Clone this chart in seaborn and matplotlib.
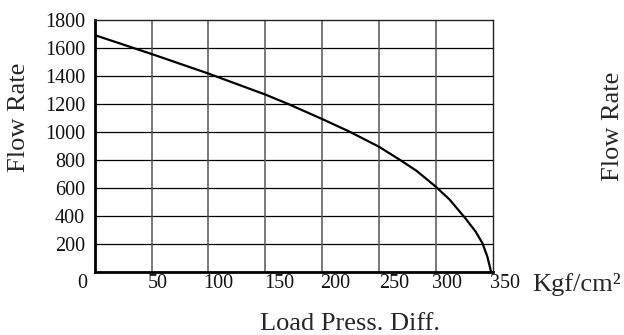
"""
Flow rate vs. load pressure differential curve (valve characteristic).
"""

import matplotlib
matplotlib.use("Agg")
import matplotlib.pyplot as plt
import matplotlib.transforms as mtransforms
import seaborn as sns
import pandas as pd

# Values
pressure = [0, 50, 100, 150, 170, 200, 224, 250, 268, 277, 283, 300, 312, 326, 335, 341, 345.3, 348.5]
flow = [1690, 1555, 1415, 1265, 1198, 1090, 1000, 892, 800, 752, 720, 606, 515, 380, 285, 202, 106, 0]

x_ticks = [0, 50, 100, 150, 200, 250, 300, 350]
y_ticks = [200, 400, 600, 800, 1000, 1200, 1400, 1600, 1800]

x_label = "Load Press. Diff."
y_label = "Flow Rate"
unit_label = "Kgf/cm\u00b2"

# tick labels in the reference sit a little off their gridlines (pixels)
x_label_shift = [-12, 6, 10, 14, 13, 15, 11, 12]

W, H = 624, 335


def main() -> None:
    sns.set_style("white")
    plt.rcParams["font.family"] = ["Liberation Serif", "DejaVu Serif"]

    fig = plt.figure(figsize=(W / 100, H / 100), dpi=100)
    left, right, top, bottom = 94.7, 492.7, 19.7, 271.5
    ax = fig.add_axes([left / W, 1 - bottom / H, (right - left) / W, (bottom - top) / H])

    df = pd.DataFrame({"pressure": pressure, "flow": flow})
    sns.lineplot(data=df, x="pressure", y="flow", color="black", linewidth=1.6,
                 ax=ax, sort=False, zorder=5)

    ax.set_xlim(0, 350)
    ax.set_ylim(0, 1800)
    ax.set_xticks(x_ticks)
    ax.set_xticklabels([str(t) for t in x_ticks])
    ax.set_yticks(y_ticks)
    ax.set_yticklabels([str(t) for t in y_ticks])
    ax.tick_params(axis="both", length=0, labelsize=14.5, colors="#111111")
    ax.tick_params(axis="y", pad=7)
    ax.tick_params(axis="x", pad=1.5)

    for lab, dx in zip(ax.get_xticklabels(), x_label_shift):
        lab.set_transform(lab.get_transform() +
                          mtransforms.ScaledTranslation(dx / 100, 0, fig.dpi_scale_trans))

    # grid: dark horizontal rules, gray verticals
    for y in y_ticks[:-1]:
        ax.axhline(y, color="black", linewidth=0.9, zorder=1)
    for x in x_ticks[1:-1]:
        ax.axvline(x, color="#555555", linewidth=1.1, zorder=1)

    for side in ["left", "bottom"]:
        ax.spines[side].set_linewidth(2.0)
        ax.spines[side].set_color("black")
    for side in ["top", "right"]:
        ax.spines[side].set_linewidth(1.0)
        ax.spines[side].set_color("#222222")

    ax.set_xlabel("")
    ax.set_ylabel(y_label, fontsize=19, va="center")
    ax.yaxis.set_label_coords((19 - left) / (right - left), (bottom - 117) / (bottom - top))

    fig.text(350 / W, 1 - 330 / H, x_label, fontsize=19, ha="center", va="baseline")
    fig.text(532 / W, 1 - 284 / H, unit_label, fontsize=19, ha="left", va="center")
    # label of the neighbouring chart, at the right edge
    fig.text(613 / W, 1 - 126 / H, y_label, fontsize=19, ha="center", va="center",
             rotation=90)

    fig.savefig("out.png", dpi=100)


if __name__ == "__main__":
    main()
